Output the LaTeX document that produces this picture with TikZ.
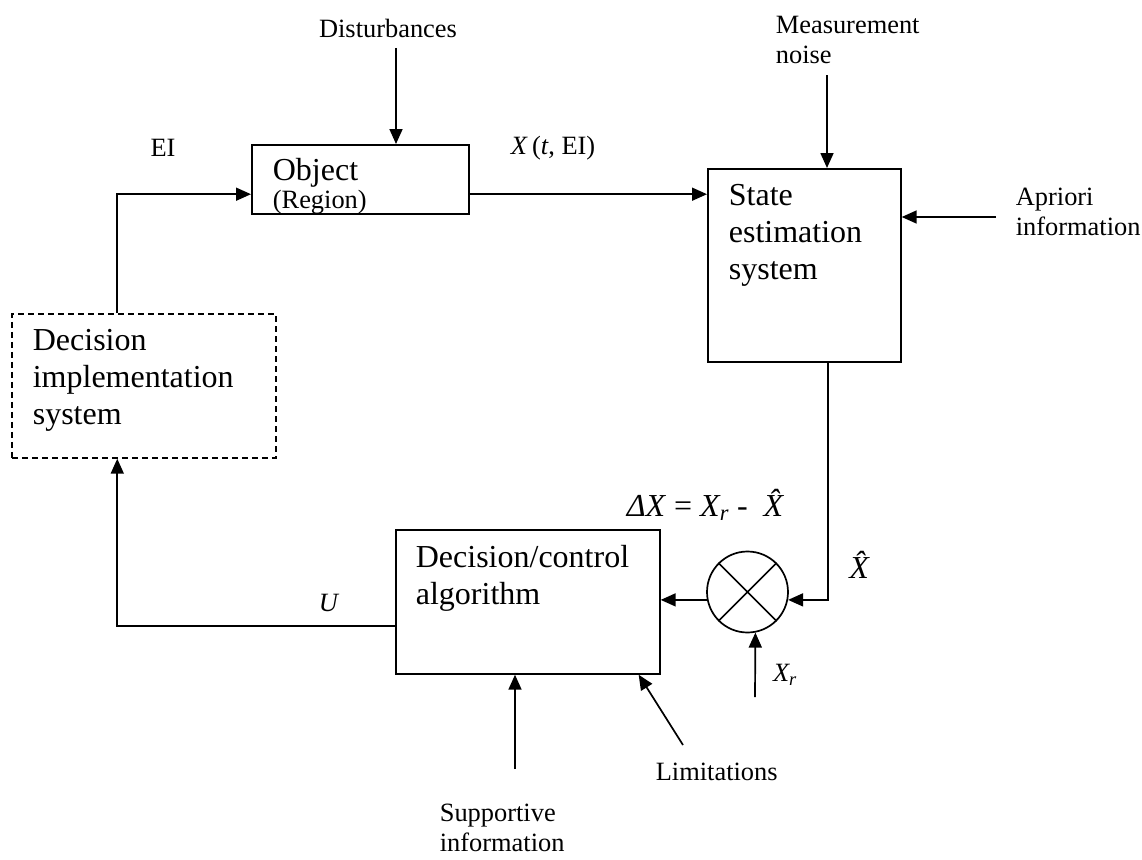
\documentclass[tikz,border=0pt]{standalone}
\usepackage{fontspec}
\setmainfont{Liberation Serif}
\usetikzlibrary{arrows.meta,calc}
\begin{document}
\begin{tikzpicture}[x=1pt,y=-1pt,line width=1.7pt,
  lab/.style={font=\fontsize{26.4}{30}\selectfont,inner sep=0pt},
  big/.style={font=\fontsize{32}{37}\selectfont,inner sep=0pt},
  arr/.style={-{Triangle[length=15pt,width=13pt]}},
  blk/.style={draw,rectangle,inner sep=0pt,anchor=north west}]
\useasboundingbox (0,0) rectangle (1142,859);
% blocks
\node[blk,minimum width=217pt,minimum height=69pt] (obj) at (251,144) {};
\node[blk,minimum width=193pt,minimum height=193pt] (state) at (707,168) {};
\node[blk,minimum width=264pt,minimum height=144pt,dash pattern=on 6pt off 4pt] (dis) at (11,313) {};
\node[blk,minimum width=264pt,minimum height=144pt] (dc) at (395,529) {};
\node[draw,circle,minimum size=81pt,inner sep=0pt] (sum) at (747.5,592) {};
\draw (sum.north west) -- (sum.south east) (sum.north east) -- (sum.south west);
% block texts
\node[big,anchor=west] (objt) at (272,173) {Object};
\node[lab,anchor=west] (regt) at (272,202) {(Region)};
\node[big,anchor=west,align=left] (statet) at (728,235) {State\\estimation\\system};
\node[big,anchor=west,align=left] (dist) at (32,380) {Decision\\implementation\\system};
\node[big,anchor=west,align=left] (dct) at (415,578) {Decision/control\\algorithm};
% labels
\node[lab] (ldist) at (388,28) {Disturbances};
\node[lab] (lei) at (163,148) {EI};
\node[lab] (lx) at (553,148) {\textit{X}\,(\textit{t}, EI)};
\node[lab,anchor=west,align=left] (lmn) at (775,40) {Measurement\\noise};
\node[lab,anchor=west,align=left] (lap) at (1015,212) {Apriori\\information};
\node[lab,anchor=west,align=left] (lsp) at (439,828) {Supportive\\information};
\node[lab,anchor=west] (llim) at (655,772) {Limitations};
\node[lab] (lu) at (329,603) {\textit{U}};
\node[lab] (lxr) at (785,675) {\textit{X\textsubscript{r}}};
\node[big] (lxh) at (865,565) {\textit{\^{X}}};
\node[big] (ldx) at (711,505) {\textit{ΔX} = \textit{X\textsubscript{r}} -\ \ \textit{\^{X}}};
% connectors
\coordinate (distS) at (396,48);
\draw[arr] (distS) -- (distS |- obj.north);
\coordinate (eiS) at ($(dis.north west)!0.4!(dis.north east)$);
\coordinate (objIn) at ($(obj.south west)!0.29!(obj.north west)$);
\draw[arr] (eiS) |- (objIn);
\coordinate (objOut) at ($(obj.south east)!0.29!(obj.north east)$);
\draw[arr] (objOut) -- (objOut -| state.west);
\coordinate (mnS) at (827,75);
\draw[arr] (mnS) -- (mnS |- state.north);
\coordinate (apS) at (996,217);
\draw[arr] (apS) -- (apS -| state.east);
\coordinate (stOut) at ($(state.south west)!0.62!(state.south east)$);
\draw[arr] (stOut) |- (sum.-11);
\draw[arr] (sum.191) -- (sum.191 -| dc.east);
\coordinate (xrS) at (755,697);
\draw[arr] (xrS) -- (sum.-79);
\coordinate (uOut) at ($(dc.north west)!0.667!(dc.south west)$);
\coordinate (disIn) at ($(dis.south west)!0.4!(dis.south east)$);
\draw[arr] (uOut) -| (disIn);
\coordinate (spS) at (515,769);
\draw[arr] (spS) -- (spS |- dc.south);
\coordinate (lmS) at (683,745);
\draw[arr] (lmS) -- ($(dc.south west)!0.917!(dc.south east)$);
\end{tikzpicture}
\end{document}
